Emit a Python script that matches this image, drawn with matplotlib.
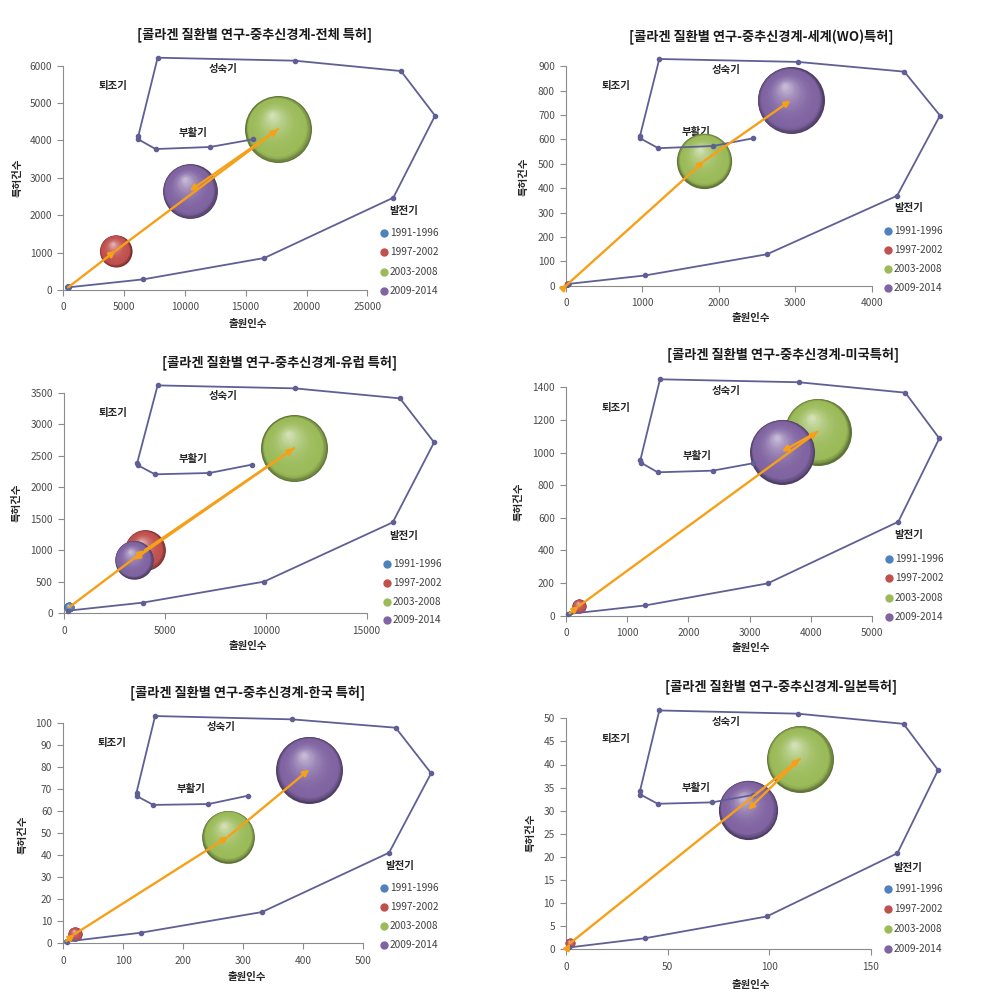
import numpy as np
import matplotlib
matplotlib.use('Agg')
import matplotlib.pyplot as plt
from matplotlib import transforms, colors as mcolors

plt.rcParams['font.family'] = ['Noto Sans CJK KR', 'DejaVu Sans']

W, H = 992, 1000

periods = ['1991-1996', '1997-2002', '2003-2008', '2009-2014']
period_colors = ['#4F81BD', '#C0504D', '#9BBB59', '#8064A2']
stages = ['성숙기', '퇴조기', '부활기', '발전기']

titles = ['[콜라겐 질환별 연구-중추신경계-전체 특허]',
          '[콜라겐 질환별 연구-중추신경계-세계(WO)특허]',
          '[콜라겐 질환별 연구-중추신경계-유럽 특허]',
          '[콜라겐 질환별 연구-중추신경계-미국특허]',
          '[콜라겐 질환별 연구-중추신경계-한국 특허]',
          '[콜라겐 질환별 연구-중추신경계-일본특허]']

# 전체
cyc1_x = [411, 6580, 16530, 27140, 30570, 27770, 19050, 7760, 6170, 6170, 7590, 12060, 15600]
cyc1_y = [71, 285, 856, 2470, 4663, 5857, 6134, 6214, 4119, 4030, 3771, 3825, 4030]
bub1_x = [400, 4300, 17650, 10400]
bub1_y = [70, 1050, 4300, 2650]
size1 = [1, 23, 100, 67]

# 세계(WO)
cyc2_x = [22, 1034, 2630, 4332, 4894, 4427, 3036, 1221, 968, 968, 1208, 1924, 2451]
cyc2_y = [7, 42, 129, 369, 698, 878, 918, 930, 614, 605, 564, 573, 605]
bub2_x = [10, 20, 1810, 2940]
bub2_y = [3, 6, 512, 760]
size2 = [0.4, 0.8, 68, 100]

# 유럽
cyc3_x = [215, 3900, 9910, 16290, 18340, 16650, 11430, 4640, 3630, 3670, 4510, 7200, 9300]
cyc3_y = [42, 169, 502, 1443, 2712, 3410, 3569, 3616, 2390, 2347, 2205, 2226, 2358]
bub3_x = [250, 4000, 11400, 3450]
bub3_y = [95, 1000, 2620, 850]
size3 = [2.3, 37, 100, 33]

# 미국
cyc4_x = [27, 1296, 3295, 5430, 6100, 5545, 3802, 1536, 1215, 1225, 1498, 2397, 3050]
cyc4_y = [10, 63, 198, 576, 1087, 1367, 1431, 1449, 954, 938, 879, 889, 934]
bub4_x = [60, 210, 4110, 3530]
bub4_y = [15, 59, 1128, 1006]
size4 = [0.4, 4.5, 100, 94]

# 한국
cyc5_x = [6, 129, 331, 543, 613, 554, 381, 153, 122, 122, 150, 242, 308]
cyc5_y = [0.8, 4.8, 14.2, 41.2, 77.3, 98.0, 101.8, 103.3, 68.5, 67.0, 62.9, 63.3, 67.1]
bub5_x = [5, 19, 275, 410]
bub5_y = [1, 4.2, 48.5, 79]
size5 = [0.4, 4.5, 62, 100]

# 일본
cyc6_x = [1.6, 38.9, 98.7, 163, 183, 166, 114, 45.9, 36.4, 36.6, 45.1, 71.8, 91.8]
cyc6_y = [0.4, 2.4, 7.1, 20.8, 38.8, 48.8, 51.0, 51.7, 34.3, 33.5, 31.5, 31.8, 33.4]
bub6_x = [1, 2, 115, 89.5]
bub6_y = [0.5, 1.3, 41.2, 30.2]
size6 = [0.3, 2.2, 100, 78]

# layout (pixels): axes left, right, top, bottom / axis max, step / legend / title / labels
panels = [
    (cyc1_x, cyc1_y, bub1_x, bub1_y, size1, (63.3, 367.3, 65.7, 290), 25000, 5000, 6000, 1000,
     (384, 233, 19.3), (255, 35), (248, 324), (18, 178)),
    (cyc2_x, cyc2_y, bub2_x, bub2_y, size2, (566, 871.7, 66.3, 285.7), 4000, 1000, 900, 100,
     (888, 231, 18.9), (761, 37), (751, 318), (524, 177)),
    (cyc3_x, cyc3_y, bub3_x, bub3_y, size3, (64, 366.7, 392.7, 613.3), 15000, 5000, 3500, 500,
     (387, 564, 18.8), (280, 363), (248, 646), (17, 503)),
    (cyc4_x, cyc4_y, bub4_x, bub4_y, size4, (566, 872, 387.3, 615.7), 5000, 1000, 1400, 200,
     (889, 559, 19.3), (783, 355), (751, 648), (519, 502)),
    (cyc5_x, cyc5_y, bub5_x, bub5_y, size5, (63.3, 363.3, 723.3, 943.3), 500, 100, 100, 10,
     (384, 888, 18.9), (248, 693), (247, 977), (23, 835)),
    (cyc6_x, cyc6_y, bub6_x, bub6_y, size6, (566, 871, 718.3, 949.3), 150, 50, 50, 5,
     (888, 889, 20), (781, 687), (751, 985), (531, 833)),
]

stage_pos = [(0.525, 0.985), (0.163, 0.909), (0.427, 0.700), (1.121, 0.352)]

fig = plt.figure(figsize=(W / 100, H / 100), dpi=100)


def fx(px):
    return px / W


def fy(py):
    return 1 - py / H


def sphere(ax, x, y, r_px, color, z):
    # stacked discs, lighter towards the upper-left highlight
    base = np.array(mcolors.to_rgb(color))
    dark = base * 0.62
    light = base + (1 - base) * 0.55
    r = r_px * 0.72
    n = 30
    for i in range(n):
        t = i / (n - 1)
        rr = r * (1 - 0.93 * t)
        if t < 0.12:
            c = dark + (base - dark) * (t / 0.12)
        else:
            c = base + (light - base) * ((t - 0.12) / 0.88) ** 2.2
        tr = transforms.offset_copy(ax.transData, fig=fig, x=-0.17 * r * t, y=0.42 * r * t, units='points')
        ax.scatter([x], [y], s=(2 * rr) ** 2, color=c, lw=0, transform=tr,
                   clip_on=False, zorder=z)


for k, (cx, cy, bx, by, bs, rect, xmax, xstep, ymax, ystep, leg, tpos, xlpos, ylpos) in enumerate(panels):
    l, r, t, b = rect
    ax = fig.add_axes([fx(l), fy(b), (r - l) / W, (b - t) / H])
    ax.set_xlim(0, xmax)
    ax.set_ylim(0, ymax)
    ax.set_xticks(np.arange(0, xmax + xstep / 2, xstep))
    ax.set_yticks(np.arange(0, ymax + ystep / 2, ystep))
    ax.patch.set_visible(False)
    for s in ['top', 'right']:
        ax.spines[s].set_visible(False)
    for s in ['left', 'bottom']:
        ax.spines[s].set_color('#8C8C8C')
        ax.spines[s].set_linewidth(0.8)
    ax.tick_params(length=4, width=0.8, color='#8C8C8C', labelsize=7.3, labelcolor='#4A4A4A')
    ax.tick_params(axis='x', pad=5)
    ax.tick_params(axis='y', pad=4)

    # bubbles
    rmax = 33.5
    for i in range(4):
        sphere(ax, bx[i], by[i], rmax * np.sqrt(bs[i] / 100.0), period_colors[i], 3 + i * 0.1)

    # cycle curve
    ax.plot(cx, cy, color='#5F5F96', lw=1.3, marker='o', ms=3, clip_on=False, zorder=5)

    # arrows between periods
    for i in range(3):
        ax.annotate('', xy=(bx[i + 1], by[i + 1]), xytext=(bx[i], by[i]),
                    arrowprops=dict(arrowstyle='-|>', color='#F6A01A', lw=1.7,
                                    mutation_scale=9, shrinkA=0, shrinkB=0),
                    annotation_clip=False, zorder=6)

    for name, (sx, sy) in zip(stages, stage_pos):
        ax.text(sx, sy, name, transform=ax.transAxes, ha='center', va='center',
                fontsize=7.5, fontweight='bold', color='#262626', clip_on=False)

    # legend
    lx, ly, dy = leg
    for i, p in enumerate(periods):
        yy = ly + i * dy
        fig.add_artist(plt.Line2D([fx(lx)], [fy(yy)], marker='o', ms=5, color=period_colors[i],
                                  transform=fig.transFigure))
        fig.text(fx(lx + 6), fy(yy), p, fontsize=7.3, color='#404040', va='center', ha='left')

    fig.text(fx(tpos[0]), fy(tpos[1]), titles[k], fontsize=9.5, fontweight='bold',
             ha='center', va='center', color='#1A1A1A')
    fig.text(fx(xlpos[0]), fy(xlpos[1]), '출원인수', fontsize=7.5, fontweight='bold',
             ha='center', va='center', color='#262626')
    fig.text(fx(ylpos[0]), fy(ylpos[1]), '특허건수', fontsize=7.5, fontweight='bold',
             ha='center', va='center', rotation=90, color='#262626')

fig.savefig('out.png', dpi=100, facecolor='white')
